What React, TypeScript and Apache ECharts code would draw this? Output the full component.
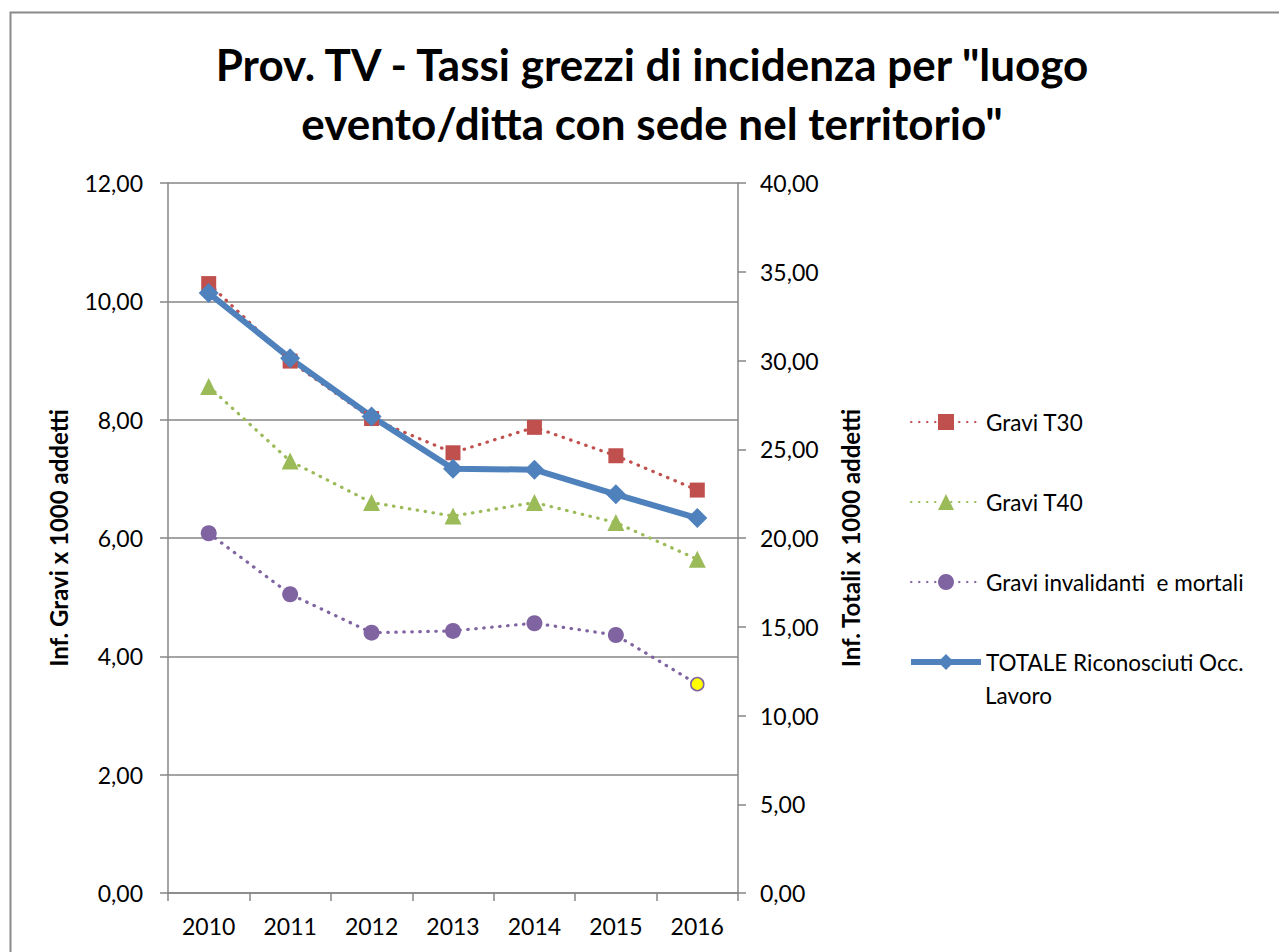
import React, { useEffect, useRef } from 'react';
import * as echarts from 'echarts';

const years = ['2010', '2011', '2012', '2013', '2014', '2015', '2016'];
const graviT30 = [10.3, 8.99, 8.02, 7.44, 7.87, 7.39, 6.81];
const graviT40 = [8.56, 7.3, 6.6, 6.37, 6.6, 6.26, 5.64];
const graviInv = [6.08, 5.05, 4.4, 4.43, 4.56, 4.36, 3.53];
const totale = [33.8, 30.12, 26.85, 23.9, 23.85, 22.46, 21.12];

const nameT30 = 'Gravi T30';
const nameT40 = 'Gravi T40';
const nameInv = 'Gravi invalidanti  e mortali';
const nameTot = 'TOTALE Riconosciuti Occ. Lavoro';

const FONT = 'Lato, "Liberation Sans", sans-serif';
const AXIS_COLOR = '#868686';
const fmt = (v: number) => v.toFixed(2).replace('.', ',');

export default function App() {
  const ref = useRef<HTMLDivElement>(null);
  useEffect(() => {
    if (!ref.current) return;
    const chart = echarts.init(ref.current, undefined, { renderer: 'svg' });
    const dotted = (color: string) => ({ color, width: 3.2, type: [0.5, 7.5] as any, cap: 'round' as any });
    chart.setOption({
      animation: false,
      backgroundColor: '#ffffff',
      textStyle: { fontFamily: FONT },
      title: {
        text: 'Prov. TV - Tassi grezzi di incidenza per "luogo\nevento/ditta con sede nel territorio"',
        left: 652,
        textAlign: 'center',
        top: 34,
        padding: 0,
        textStyle: { fontFamily: FONT, fontWeight: 'bold', fontSize: 44, lineHeight: 59, color: '#000' },
      },
      graphic: [
        {
          type: 'rect',
          shape: { x: 10.5, y: 12.5, width: 1300, height: 1000 },
          style: { fill: 'none', stroke: '#8a8a8a', lineWidth: 2 },
          silent: true,
        },
        {
          type: 'text',
          left: 985,
          top: 684,
          style: { text: 'Lavoro', fontFamily: FONT, fontSize: 22.5, fill: '#000' },
        },
      ],
      legend: {
        orient: 'vertical',
        left: 903,
        top: 405,
        padding: 5,
        itemWidth: 70,
        itemHeight: 20,
        itemGap: 56,
        selectedMode: false,
        data: [
          { name: nameT30 },
          { name: nameT40 },
          { name: nameInv },
          { name: nameTot, lineStyle: { width: 6 } },
        ],
        formatter: (n: string) => (n === nameTot ? 'TOTALE Riconosciuti Occ.' : n),
        textStyle: { fontFamily: FONT, fontSize: 22.5, lineHeight: 24, color: '#000' },
      },
      grid: { left: 168, right: 541, top: 183, bottom: 59, containLabel: false },
      xAxis: {
        type: 'category',
        data: years,
        boundaryGap: true,
        axisLine: { lineStyle: { color: AXIS_COLOR, width: 1.5 } },
        axisTick: { show: true, length: 8, lineStyle: { color: AXIS_COLOR, width: 1.5 } },
        axisLabel: { margin: 21, fontSize: 23, color: '#000', fontFamily: FONT },
      },
      yAxis: [
        {
          type: 'value',
          min: 0,
          max: 12,
          interval: 2,
          name: 'Inf. Gravi x 1000 addetti',
          nameLocation: 'middle',
          nameRotate: 90,
          nameGap: 98,
          nameTextStyle: { fontFamily: FONT, fontWeight: 'bold', fontSize: 24, color: '#000' },
          axisLine: { show: true, lineStyle: { color: AXIS_COLOR, width: 1.5 } },
          axisTick: { show: true, length: 8, lineStyle: { color: AXIS_COLOR, width: 1.5 } },
          axisLabel: { margin: 25, fontSize: 23, color: '#000', fontFamily: FONT, formatter: fmt },
          splitLine: { show: true, lineStyle: { color: AXIS_COLOR, width: 1.5 } },
        },
        {
          type: 'value',
          position: 'right',
          min: 0,
          max: 40,
          interval: 5,
          name: 'Inf. Totali x 1000 addetti',
          nameLocation: 'middle',
          nameRotate: 90,
          nameGap: 100,
          nameTextStyle: { fontFamily: FONT, fontWeight: 'bold', fontSize: 24, color: '#000' },
          axisLine: { show: true, lineStyle: { color: AXIS_COLOR, width: 1.5 } },
          axisTick: { show: true, length: 8, lineStyle: { color: AXIS_COLOR, width: 1.5 } },
          axisLabel: { margin: 22, fontSize: 23, color: '#000', fontFamily: FONT, formatter: fmt },
          splitLine: { show: false },
        },
      ],
      series: [
        {
          name: nameT30,
          type: 'line',
          yAxisIndex: 0,
          data: graviT30,
          symbol: 'rect',
          symbolSize: 15,
          itemStyle: { color: '#C0504D' },
          lineStyle: dotted('#C0504D'),
        },
        {
          name: nameT40,
          type: 'line',
          yAxisIndex: 0,
          data: graviT40,
          symbol: 'triangle',
          symbolSize: 17,
          itemStyle: { color: '#9BBB59' },
          lineStyle: dotted('#9BBB59'),
        },
        {
          name: nameInv,
          type: 'line',
          yAxisIndex: 0,
          data: graviInv.map((v, i) =>
            i === graviInv.length - 1
              ? { value: v, symbolSize: 13, itemStyle: { color: '#FFFF00', borderColor: '#8064A2', borderWidth: 1.5 } }
              : v
          ),
          symbol: 'circle',
          symbolSize: 16,
          itemStyle: { color: '#8064A2' },
          lineStyle: dotted('#8064A2'),
        },
        {
          name: nameTot,
          type: 'line',
          yAxisIndex: 1,
          data: totale,
          symbol: 'diamond',
          symbolSize: 20,
          itemStyle: { color: '#4F81BD' },
          lineStyle: { color: '#4F81BD', width: 6 },
        },
      ],
    });
    return () => chart.dispose();
  }, []);
  return <div ref={ref} style={{ position: 'absolute', left: 0, top: 0, width: 1279, height: 952 }} />;
}
